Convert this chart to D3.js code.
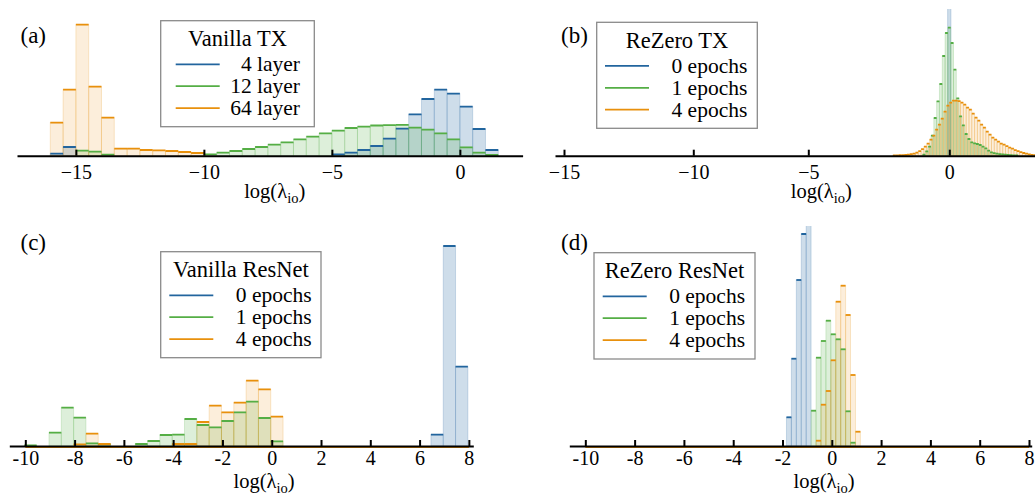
<!DOCTYPE html>
<html>
<head>
<meta charset="utf-8">
<script src="https://cdn.jsdelivr.net/npm/d3@7"></script>
<style>
  body { margin: 0; background: #fff; }
  text { font-family: "Liberation Serif", "DejaVu Serif", serif; fill: #000; }
</style>
</head>
<body>
<svg id="chart"></svg>
<script>
const width = 1035;
const height = 494;

const blue = "#22659e";
const green = "#55ae45";
const orange = "#e8900c";
const fillAlpha = {[blue]: 0.22, [green]: 0.2, [orange]: 0.15};

// (a) Vanilla TX -- bins of 0.5 starting at -16
const aStart = -16, aWidth = 0.5;
const aLayer4 = [2, 8.7, 0, 0, 0, 0, 0, 0, 0, 0, 0, 0, 0, 0, 0, 0, 0, 0, 0, 0, 0, 0,
    1.3, 3, 5.7, 9.7, 17, 27, 41.3, 56.7, 66, 62, 49, 26.7, 5.7];
const aLayer12 = [0, 0, 5, 4, 1, 0, 0, 0, 0, 0, 0, 0,
    1.3, 3, 4.7, 6.7, 8.7, 11, 13.3, 16.3, 19, 22.3, 25, 27.7, 29, 30.2, 30.6, 30.8, 28, 26, 22.3, 16.3, 8.3, 3, 0.7];
const aLayer64 = [33, 66, 131, 69, 38, 7, 7, 5.7, 5.3, 4.7, 3.7, 2.7];

// (b) ReZero TX
const bEpoch0Start = -0.06, bEpoch0Width = 0.12;
const bEpoch0 = [300];
const bEpoch1Start = -0.95, bEpoch1Width = 0.1;
const bEpoch1 = [1, 4.3, 9, 20, 37.7, 54.3, 71.7, 99.7, 122.7, 128, 112.7, 86, 57.3, 39.3, 30.3, 21.7,
    16.7, 13.3, 12.3, 11.7, 10.7, 9, 7.3, 5, 3.3, 2.5, 2, 1.6, 1.3, 1, 0.8, 0.6, 0.4, 0.3];
const bEpoch4Start = -2.0, bEpoch4Width = 0.1;
const bEpoch4 = [0.3, 0.3, 0.5, 0.6, 0.8, 1, 1.5, 2, 3, 4.5, 6.5, 9, 12, 16, 20, 26, 31, 37, 44, 50,
    53, 55, 55, 54.5, 53, 51, 48, 46, 42, 38, 35, 31, 28, 24, 21, 18, 16, 14, 12, 11,
    9.5, 8, 7, 5.5, 4.5, 3.5, 2.7, 2, 1.3, 0.8, 0.5];

// (c) Vanilla ResNet -- bins of 0.5
const cWidth = 0.5;
const cEpoch0Start = 6.46;
const cEpoch0 = [11.3, 200, 79.3];
const cEpoch1Start = -10.04;
const cEpoch1 = [0.7, 0, 13.3, 38.3, 28.3, 2.7, 1.7, 0, 0, 2, 5, 11, 11.3, 27, 21, 18.7, 25, 33.7, 44.3, 28, 4.7];
const cEpoch4Start = -10.04;
const cEpoch4 = [0, 0, 0, 0, 1.7, 12.3, 2, 0, 0, 0, 0, 0, 2, 2, 24, 40.3, 33.7, 43.3, 65.3, 56.7, 29.3];

// (d) ReZero ResNet -- bins of 0.2
const dWidth = 0.2;
const dEpoch0Start = -1.84;
const dEpoch0 = [28.7, 87.3, 166, 212, 260];
const dEpoch1Start = -0.84;
const dEpoch1 = [35.3, 88.3, 105, 125.3, 111.7, 106.7, 96.7, 34.7, 3.3];
const dEpoch4Start = -0.64;
const dEpoch4 = [5.3, 41.3, 55, 85.7, 144.3, 160.3, 131, 71, 14.3];

const resnetRange = [-10, 8];

const topTicks = [-15, -10, -5, 0];
const bottomTicks = [-10, -8, -6, -4, -2, 0, 2, 4, 6, 8];
const txLabels = ["4 layer", "12 layer", "64 layer"];
const epochLabels = ["0 epochs", "1 epochs", "4 epochs"];

const svg = d3.select("#chart")
    .attr("width", width)
    .attr("height", height)
    .attr("viewBox", [0, 0, width, height]);

const topY = d3.scaleLinear().domain([0, 146.7]).range([155.7, 9]);
const botY = d3.scaleLinear().domain([0, 214]).range([446, 232]);

const panels = [
    {
        name: "(a)", title: "Vanilla TX", labels: txLabels,
        x: d3.scaleLinear().domain([-17.3, 2.45]).range([17, 522.6]),
        y: topY, clipTop: 9, ticks: topTicks, fmt: d3.format("d"), pad: 9,
        series: [
            {start: aStart, width: aWidth, values: aLayer4, color: blue},
            {start: aStart, width: aWidth, values: aLayer12, color: green},
            {start: aStart, width: aWidth, values: aLayer64, color: orange}
        ],
        tag: [20.5, 43], axisLabel: [274.7, 198],
        legend: {x: 160.7, y: 20.7, w: 153.6, h: 106, lx: 15, rpad: 14.3}
    },
    {
        name: "(b)", title: "ReZero TX", labels: epochLabels,
        x: d3.scaleLinear().domain([-15.35, -15, -10, -5, 0, 3.05]).range([555, 564, 693.3, 808.3, 949.3, 1035]),
        y: topY, clipTop: 9, ticks: topTicks, fmt: d3.format("d"), pad: 9,
        series: [
            {start: bEpoch0Start, width: bEpoch0Width, values: bEpoch0, color: blue},
            {start: bEpoch1Start, width: bEpoch1Width, values: bEpoch1, color: green},
            {start: bEpoch4Start, width: bEpoch4Width, values: bEpoch4, color: orange}
        ],
        tag: [561, 43], axisLabel: [821.3, 198],
        legend: {x: 596.7, y: 22.3, w: 160.6, h: 106, lx: 8.3, rpad: 10}
    },
    {
        name: "(c)", title: "Vanilla ResNet", labels: epochLabels,
        x: d3.scaleLinear().domain([-10.65, 8.18]).range([9.3, 473.3]),
        y: botY, clipTop: 226, ticks: bottomTicks, fmt: d => String(d), pad: 5, zeroLine: true,
        series: [
            {start: cEpoch0Start, width: cWidth, values: cEpoch0, color: blue},
            {start: cEpoch1Start, width: cWidth, values: cEpoch1, color: green},
            {start: cEpoch4Start, width: cWidth, values: cEpoch4, color: orange}
        ],
        tag: [20.5, 250], axisLabel: [264, 487.5],
        legend: {x: 160.7, y: 251.7, w: 160.3, h: 106, lx: 8.6, rpad: 9.3}
    },
    {
        name: "(d)", title: "ReZero ResNet", labels: epochLabels,
        x: d3.scaleLinear().domain([-10.65, 8.11]).range([569.3, 1031.7]),
        y: botY, clipTop: 226, ticks: bottomTicks, fmt: d => String(d), pad: 5, zeroLine: true,
        series: [
            {start: dEpoch0Start, width: dWidth, values: dEpoch0, color: blue},
            {start: dEpoch1Start, width: dWidth, values: dEpoch1, color: green},
            {start: dEpoch4Start, width: dWidth, values: dEpoch4, color: orange}
        ],
        tag: [561, 250], axisLabel: [824, 487.5],
        legend: {x: 594, y: 252.7, w: 161, h: 106.3, lx: 8.7, rpad: 10}
    }
];

function binsOf(s) {
    return s.values
        .map((v, i) => ({x0: s.start + i * s.width, x1: s.start + (i + 1) * s.width, h: v}))
        .filter(b => b.h > 0);
}

panels.forEach((p, k) => {
    const g = svg.append("g");
    const [x0, x1] = d3.extent(p.x.range());

    g.append("clipPath")
        .attr("id", "clip" + k)
        .append("rect")
        .attr("x", x0).attr("y", p.clipTop)
        .attr("width", x1 - x0).attr("height", p.y(0) - p.clipTop + 4);

    const plot = g.append("g").attr("clip-path", `url(#clip${k})`);

    // filled bars
    p.series.forEach(s => {
        plot.append("g")
            .selectAll("rect")
            .data(binsOf(s))
            .join("rect")
            .attr("x", b => p.x(b.x0))
            .attr("width", b => p.x(b.x1) - p.x(b.x0))
            .attr("y", b => p.y(b.h))
            .attr("height", b => p.y(0) - p.y(b.h))
            .attr("fill", s.color)
            .attr("fill-opacity", fillAlpha[s.color])
            .attr("stroke", s.color)
            .attr("stroke-opacity", 0.2)
            .attr("stroke-width", 1);
    });

    // top edges
    p.series.forEach(s => {
        plot.append("g")
            .selectAll("line")
            .data(binsOf(s))
            .join("line")
            .attr("x1", b => p.x(b.x0))
            .attr("x2", b => p.x(b.x1))
            .attr("y1", b => p.y(b.h))
            .attr("y2", b => p.y(b.h))
            .attr("stroke", s.color)
            .attr("stroke-width", 1.8);
    });

    if (p.zeroLine) {
        g.append("line")
            .attr("x1", p.x(resnetRange[0]))
            .attr("x2", p.x(resnetRange[1]))
            .attr("y1", p.y(0) + 1.3)
            .attr("y2", p.y(0) + 1.3)
            .attr("stroke", orange)
            .attr("stroke-width", 1.4);
    }

    // x axis
    g.append("g")
        .attr("transform", `translate(0,${p.y(0)})`)
        .call(d3.axisBottom(p.x).tickValues(p.ticks).tickFormat(p.fmt)
            .tickSizeInner(-6).tickSizeOuter(0).tickPadding(p.pad))
        .call(a => a.select(".domain").attr("stroke", "#000").attr("stroke-width", 2))
        .call(a => a.selectAll(".tick line").attr("stroke", "#000").attr("stroke-width", 2))
        .call(a => a.selectAll(".tick text")
            .attr("fill", "#000")
            .style("font-family", '"Liberation Serif", serif')
            .style("font-size", "20px"));

    // axis label log(lambda_io)
    const lab = g.append("text")
        .attr("x", p.axisLabel[0])
        .attr("y", p.axisLabel[1])
        .attr("text-anchor", "middle")
        .style("font-size", "20.5px");
    lab.append("tspan").text("log(λ");
    lab.append("tspan").attr("dy", 5).style("font-size", "14.5px").text("io");
    lab.append("tspan").attr("dy", -5).text(")");

    // panel tag
    g.append("text")
        .attr("x", p.tag[0])
        .attr("y", p.tag[1])
        .style("font-size", "23px")
        .text(p.name);

    // legend
    const L = p.legend;
    const lg = g.append("g");
    lg.append("rect")
        .attr("x", L.x).attr("y", L.y)
        .attr("width", L.w).attr("height", L.h)
        .attr("fill", "#fff")
        .attr("stroke", "#8a8a8a")
        .attr("stroke-width", 1.3);
    lg.append("text")
        .attr("x", L.x + L.w / 2)
        .attr("y", L.y + 25.5)
        .attr("text-anchor", "middle")
        .style("font-size", "22.5px")
        .text(p.title);
    p.series.forEach((s, i) => {
        const ry = L.y + 43.6 + i * 21.9;
        lg.append("line")
            .attr("x1", L.x + L.lx).attr("x2", L.x + L.lx + 44)
            .attr("y1", ry).attr("y2", ry)
            .attr("stroke", s.color)
            .attr("stroke-width", 1.8);
        lg.append("text")
            .attr("x", L.x + L.w - L.rpad)
            .attr("y", ry + 7)
            .attr("text-anchor", "end")
            .style("font-size", "21.5px")
            .text(p.labels[i]);
    });
});
</script>
</body>
</html>
